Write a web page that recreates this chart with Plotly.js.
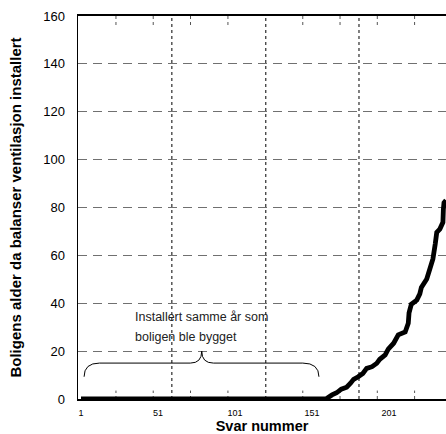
<!DOCTYPE html>
<html>
<head>
<meta charset="utf-8">
<script src="https://cdn.plot.ly/plotly-3.0.1.min.js"></script>
<style>html,body{margin:0;padding:0;background:#fff;}#chart{width:446px;height:434px;}</style>
</head>
<body>
<div id="chart"></div>
<script>
// Response number (x) and house age when balanced ventilation was installed (y)
var svarNummer = [1, 160, 164, 167, 170, 173.5, 176, 178, 181, 184, 186.5, 190, 193, 195, 198.5, 200.5, 204, 207, 211.5, 213.5, 214, 215.5, 219, 221, 222, 225.5, 227.5, 229.5, 231, 232, 234, 236, 236.3, 236.7, 238];
var boligAlder = [0, 0, 1.7, 2.6, 4.1, 4.9, 6.6, 8.2, 9.3, 10.7, 12.8, 13.5, 14.9, 16.6, 18.4, 20.8, 23.3, 26.8, 28, 31.6, 36, 39.6, 41.3, 43.9, 46.6, 50.1, 54.3, 58.5, 64.7, 69.6, 71, 73.8, 79.3, 82, 83];
var xTickVals = [1, 51, 101, 151, 201];
var yTickVals = [0, 20, 40, 60, 80, 100, 120, 140, 160];
var annotLines = ["Installert samme år som", "boligen ble bygget"];

// guide positions (not data)
var dottedGuides = [60, 121, 181.5];
var minorTicks = [23.7, 47.9, 72.1, 96.4, 145, 169.2, 193.4, 217.6];

var FONT = "Arial, 'Liberation Sans', sans-serif";

var shapes = [];
dottedGuides.forEach(function(v){
  shapes.push({type:'line', xref:'x', yref:'paper', x0:v, x1:v, y0:0, y1:1, layer:'below',
    line:{color:'#000', width:1, dash:'dot'}});
});
minorTicks.forEach(function(v){
  shapes.push({type:'line', xref:'x', yref:'paper', x0:v, x1:v, y0:0, y1:0.022, layer:'below',
    line:{color:'#555', width:1, dash:'dot'}});
  shapes.push({type:'line', xref:'x', yref:'paper', x0:v, x1:v, y0:1, y1:0.972, layer:'below',
    line:{color:'#555', width:1, dash:'dot'}});
});
// curly brace
shapes.push({type:'path', xref:'x', yref:'y', layer:'above',
  path:'M 3,9.3 Q 3,15 13,15 L 72,15 Q 79.4,15 79.4,20 Q 79.4,15 87,15 L 145,15 Q 155.5,15 155.5,9.3',
  line:{color:'#000', width:1}});

var trace = {
  x: svarNummer, y: boligAlder, type:'scatter', mode:'lines',
  line:{color:'#000', width:4.8}, hoverinfo:'skip', cliponaxis:false
};

var layout = {
  width:446, height:434,
  margin:{l:78, r:0, t:16, b:35},
  paper_bgcolor:'#fff', plot_bgcolor:'#fff',
  showlegend:false,
  font:{family:FONT, color:'#000'},
  xaxis:{
    range:[-0.95, 238], tickvals:xTickVals, ticks:'outside', ticklen:4, tickcolor:'rgba(0,0,0,0)',
    showgrid:false, zeroline:false,
    showline:true, linecolor:'#000', linewidth:2, mirror:true,
    tickfont:{size:9, family:FONT, color:'#000'},
    title:{text:'<b>Svar nummer</b>', font:{size:14.5, family:FONT, color:'#000'}, standoff:3}
  },
  yaxis:{
    range:[0, 160], tickvals:yTickVals, ticks:'outside', ticklen:9, tickcolor:'rgba(0,0,0,0)',
    showgrid:true, gridcolor:'#707070', gridwidth:1, griddash:'9px,6px', zeroline:false,
    showline:true, linecolor:'#000', linewidth:1.5,
    tickfont:{size:13, family:FONT, color:'#000'},
    title:{text:'<b>Boligens alder da balanser ventilasjon installert</b>', font:{size:15, family:FONT, color:'#000'}, standoff:18}
  },
  shapes: shapes,
  annotations:[
    {x:34.5, y:34.4, xref:'x', yref:'y', xanchor:'left', yanchor:'middle', showarrow:false,
      text:annotLines[0], font:{size:12.5, family:FONT, color:'#222'}},
    {x:34.5, y:26.1, xref:'x', yref:'y', xanchor:'left', yanchor:'middle', showarrow:false,
      text:annotLines[1], font:{size:12.5, family:FONT, color:'#222'}}
  ]
};

Plotly.newPlot('chart', [trace], layout, {staticPlot:true, displayModeBar:false});
</script>
</body>
</html>
